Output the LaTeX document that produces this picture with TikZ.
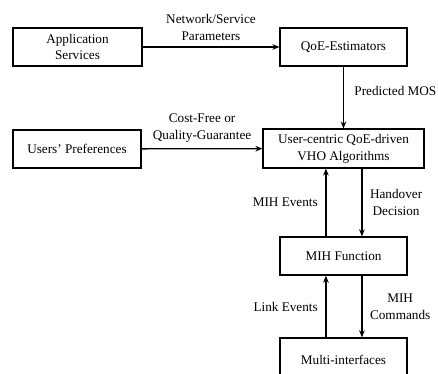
\documentclass[tikz,border=0pt]{standalone}
\usepackage{fontspec}
\setmainfont{Liberation Serif}
\usetikzlibrary{arrows.meta}
\begin{document}
\begin{tikzpicture}[x=0.025cm, y=-0.025cm, font=\fontsize{9.4}{12}\selectfont,
  box/.style={draw, line width=0.9pt, minimum height=0.95cm, align=center},
  flow/.style={-{Stealth[length=5pt,width=4pt]}, line width=0.9pt}]
\useasboundingbox (0,0) rectangle (438,373);
\node[box, minimum width=3.22cm] (app) at (77.5,47) {Application\\Services};
\node[box, minimum width=3.17cm] (qoe) at (343.5,47) {QoE-Estimators};
\node[box, minimum width=3.2cm] (pref) at (77,149) {Users' Preferences};
\node[box, minimum width=4.02cm, minimum height=0.97cm] (vho) at (343.5,148.5) {User-centric QoE-driven\\VHO Algorithms};
\node[box, minimum width=3.17cm] (mih) at (343.5,256) {MIH Function};
\node[box, minimum width=3.17cm, minimum height=1.1cm] (multi) at (343.5,360) {Multi-interfaces};
% top row
\draw[flow] (app) -- (qoe) node[midway, above, align=center, yshift=1pt] (netpar) {Network/Service\\Parameters};
\draw[flow] (qoe) -- (vho) node[midway, right, xshift=4pt, yshift=5pt] (mos) {Predicted MOS};
\draw[flow] (pref) -- (vho) node[midway, above, align=center, yshift=1pt] (costq) {Cost-Free or\\Quality-Guarantee};
% MIH layer
\draw[flow] ([xshift=-0.44cm]mih.north) -- ([xshift=-0.44cm]vho.south) node[midway, left, xshift=-2pt] (mihev) {MIH Events};
\draw[flow] ([xshift=0.46cm]vho.south) -- ([xshift=0.46cm]mih.north) node[midway, right, align=center, xshift=2pt] (hodec) {Handover\\Decision};
\draw[flow] ([xshift=-0.44cm]multi.north) -- ([xshift=-0.44cm]mih.south) node[midway, left, xshift=-2pt] (linkev) {Link Events};
\draw[flow] ([xshift=0.46cm]mih.south) -- ([xshift=0.46cm]multi.north) node[midway, right, align=center, xshift=2pt] (mihcmd) {MIH\\Commands};
\end{tikzpicture}
\end{document}
